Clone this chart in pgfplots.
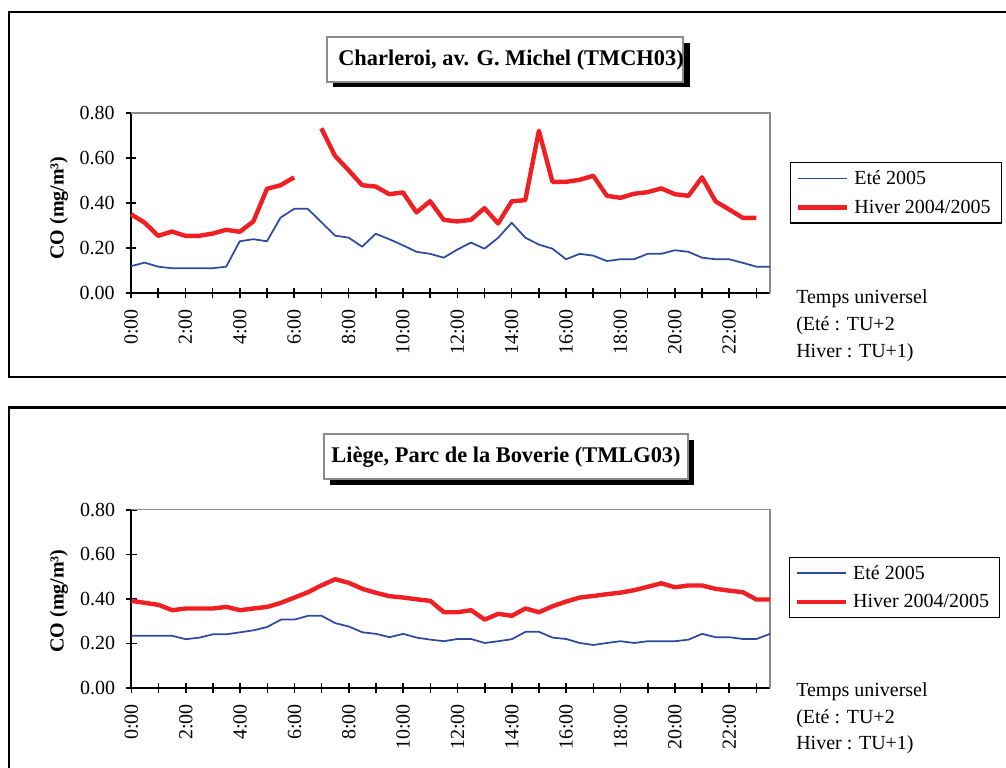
\documentclass[border=0pt]{standalone}
\usepackage{fontspec}
\setmainfont{Liberation Serif}
\usepackage{pgfplots}
\pgfplotsset{compat=1.18}
\usepackage{pgfplotstable}

\definecolor{eteblue}{RGB}{44,74,160}
\definecolor{hivred}{RGB}{238,32,36}
\definecolor{bordergray}{RGB}{140,140,140}

\newcommand{\fs}{\fontsize{15}{18}\selectfont}

\pgfplotstableread{
x y
0 0.119
0.5 0.135
1 0.117
1.5 0.110
2 0.110
2.5 0.110
3 0.110
3.5 0.117
4 0.230
4.5 0.239
5 0.230
5.5 0.335
6 0.374
6.5 0.374
7 0.315
7.5 0.255
8 0.246
8.5 0.206
9 0.263
9.5 0.239
10 0.212
10.5 0.183
11 0.174
11.5 0.157
12 0.193
12.5 0.224
13 0.197
13.5 0.245
14 0.312
14.5 0.246
15 0.215
15.5 0.197
16 0.150
16.5 0.174
17 0.166
17.5 0.142
18 0.150
18.5 0.150
19 0.174
19.5 0.174
20 0.190
20.5 0.183
21 0.157
21.5 0.150
22 0.150
22.5 0.134
23 0.117
23.5 0.117
}\topblue

\pgfplotstableread{
x y
0 0.350
0.5 0.313
1 0.254
1.5 0.273
2 0.254
2.5 0.254
3 0.264
3.5 0.281
4 0.272
4.5 0.318
5 0.463
5.5 0.479
6 0.514
6.5 nan
7 0.732
7.5 0.610
8 0.546
8.5 0.479
9 0.473
9.5 0.439
10 0.447
10.5 0.358
11 0.408
11.5 0.325
12 0.318
12.5 0.325
13 0.377
13.5 0.309
14 0.407
14.5 0.413
15 0.721
15.5 0.494
16 0.494
16.5 0.503
17 0.521
17.5 0.432
18 0.423
18.5 0.441
19 0.448
19.5 0.465
20 0.439
20.5 0.432
21 0.514
21.5 0.407
22 0.371
22.5 0.334
23 0.334
}\topred

\pgfplotstableread{
x y
0 0.234
0.5 0.234
1 0.234
1.5 0.234
2 0.219
2.5 0.226
3 0.241
3.5 0.241
4 0.250
4.5 0.259
5 0.274
5.5 0.307
6 0.307
6.5 0.324
7 0.324
7.5 0.291
8 0.276
8.5 0.250
9 0.243
9.5 0.228
10 0.243
10.5 0.226
11 0.217
11.5 0.210
12 0.220
12.5 0.220
13 0.202
13.5 0.210
14 0.219
14.5 0.252
15 0.252
15.5 0.226
16 0.220
16.5 0.202
17 0.193
17.5 0.202
18 0.210
18.5 0.202
19 0.210
19.5 0.210
20 0.210
20.5 0.217
21 0.243
21.5 0.228
22 0.228
22.5 0.220
23 0.220
23.5 0.243
}\botblue

\pgfplotstableread{
x y
0 0.391
0.5 0.382
1 0.373
1.5 0.349
2 0.357
2.5 0.357
3 0.357
3.5 0.364
4 0.349
4.5 0.357
5 0.364
5.5 0.382
6 0.406
6.5 0.430
7 0.461
7.5 0.488
8 0.472
8.5 0.445
9 0.427
9.5 0.412
10 0.406
10.5 0.398
11 0.391
11.5 0.340
12 0.340
12.5 0.349
13 0.307
13.5 0.333
14 0.324
14.5 0.357
15 0.340
15.5 0.367
16 0.388
16.5 0.406
17 0.413
17.5 0.421
18 0.428
18.5 0.439
19 0.454
19.5 0.470
20 0.452
20.5 0.460
21 0.460
21.5 0.445
22 0.437
22.5 0.430
23 0.397
23.5 0.397
}\botred

\pgfplotsset{
  costyle/.style={
    scale only axis,
    xmin=0, xmax=23.5, ymin=0, ymax=0.8,
    axis x line*=bottom, axis y line*=left,
    axis line style={black, line width=1.5pt},
    xtick={0,1,...,23},
    xticklabels={0:00,,2:00,,4:00,,6:00,,8:00,,10:00,,12:00,,14:00,,16:00,,18:00,,20:00,,22:00,},
    ytick={0,0.2,0.4,0.6,0.8},
    yticklabels={0.00,0.20,0.40,0.60,0.80},
    tick align=center,
    major tick length=8pt,
    tick style={black, line width=1.2pt},
    xticklabel style={yshift=-8pt, rotate=90, anchor=east, font=\fs, inner sep=0pt},
    yticklabel style={anchor=east, font=\fs, inner sep=0pt, xshift=-8pt},
    unbounded coords=jump,
    clip=false,
    legend cell align=left,
    legend image code/.code={\draw[#1] (0pt,0pt) -- (36.75pt,0pt);},
    legend style={anchor=north west, draw=black, line width=0.8pt, font=\fs,
      inner xsep=4pt, inner ysep=3pt, row sep=4pt,
      nodes={inner xsep=4pt, inner ysep=3pt}},
  },
  eteplot/.style={eteblue, line width=1.3pt, line join=round, no markers},
  hivplot/.style={hivred, line width=3.3pt, line join=round, no markers},
}

\begin{document}
\begin{tikzpicture}[x=0.75pt, y=0.75pt]
\useasboundingbox (0,0) rectangle (1006,767);
\fill[white] (0,0) rectangle (1006,767);

% frames
\draw[line width=2pt] (9,755) rectangle (1020,390);
\draw[line width=2pt] (9,359.5) rectangle (1020,-20);

% title boxes
\fill[black] (333,680) rectangle (690,724);
\filldraw[fill=white, draw=bordergray, line width=1.1pt] (327,730) rectangle (683,685);
\node[font=\fontsize{16.8}{19}\selectfont\bfseries, inner sep=0pt] at (511,707) {Charleroi, av. G. Michel (TMCH03)};

\fill[black] (330,282) rectangle (694,327);
\filldraw[fill=white, draw=bordergray, line width=1.1pt] (324,333) rectangle (688,288);
\node[font=\fontsize{16.8}{19}\selectfont\bfseries, inner sep=0pt] at (506,310) {Liège, Parc de la Boverie (TMLG03)};

% y labels
\node[rotate=90, font=\fs\bfseries, inner sep=0pt] at (59,559) {CO (mg/m³)};
\node[rotate=90, font=\fs\bfseries, inner sep=0pt] at (59,166) {CO (mg/m³)};

% Temps universel
\node[anchor=mid west, font=\fs, inner sep=0pt] at (796,467) {Temps universel};
\node[anchor=mid west, font=\fs, inner sep=0pt] at (796,440) {(Eté : TU+2};
\node[anchor=mid west, font=\fs, inner sep=0pt] at (796,413) {Hiver : TU+1)};
\node[anchor=mid west, font=\fs, inner sep=0pt] at (796,74) {Temps universel};
\node[anchor=mid west, font=\fs, inner sep=0pt] at (796,47) {(Eté : TU+2};
\node[anchor=mid west, font=\fs, inner sep=0pt] at (796,21) {Hiver : TU+1)};

\begin{axis}[costyle, at={(98.25pt,355.5pt)}, anchor=south west,
  width=479.25pt, height=135pt,
  legend style={at={(1.031,0.728)}}]
  \draw[bordergray, line width=1pt] (rel axis cs:0,1) -- (rel axis cs:1,1) -- (rel axis cs:1,0);
  \addplot[eteplot] table[x=x,y=y] {\topblue};
  \addlegendentry{Eté 2005}
  \addplot[hivplot] table[x=x,y=y] {\topred};
  \addlegendentry{Hiver 2004/2005}
\end{axis}

\begin{axis}[costyle, at={(98.6pt,59.25pt)}, anchor=south west,
  width=478.9pt, height=133.7pt,
  legend style={at={(1.029,0.736)}}]
  \draw[bordergray, line width=1pt] (rel axis cs:0,1) -- (rel axis cs:1,1) -- (rel axis cs:1,0);
  \addplot[eteplot] table[x=x,y=y] {\botblue};
  \addlegendentry{Eté 2005}
  \addplot[hivplot] table[x=x,y=y] {\botred};
  \addlegendentry{Hiver 2004/2005}
\end{axis}
\end{tikzpicture}
\end{document}
